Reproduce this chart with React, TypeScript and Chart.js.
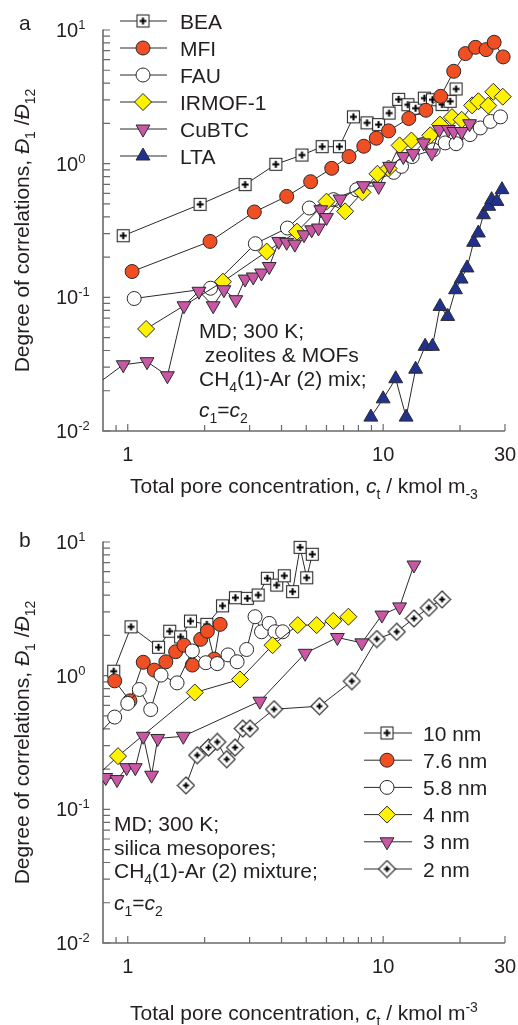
import React, { useEffect, useRef } from "react";
import { Chart, registerables } from "chart.js";

Chart.register(...registerables);

const FONT = '"Liberation Sans", Arial, Helvetica, sans-serif';
const TEXT = "#231f20";
const AXIS = "#6a6a6a";
const LINE = "#2a2a2a";
const EDGE = "#2a2a2a";
const FS = 21;
const TICK_FS = 20;

// ---------------- Panel a: zeolites & MOFs ----------------
const beaX = [0.96, 1.92, 2.88, 3.8, 4.81, 5.77, 6.74, 7.65, 8.65, 9.6, 10.55, 11.5, 12.5, 13.4, 14.5, 15.6, 17.0, 18.3, 19.3];
const beaY = [0.289, 0.496, 0.697, 0.99, 1.16, 1.34, 1.34, 2.24, 2.02, 1.96, 2.39, 3.03, 2.76, 2.6, 3.09, 3.01, 2.77, 2.93, 3.62];
const mfiX = [1.04, 2.1, 3.13, 4.19, 5.2, 6.29, 7.35, 8.4, 9.4, 10.5, 12.6, 14.7, 16.8, 18.9, 21.0, 23.0, 25.3, 27.2, 29.5];
const mfiY = [0.156, 0.262, 0.435, 0.569, 0.733, 0.923, 1.13, 1.35, 1.55, 1.76, 2.18, 2.51, 3.19, 4.91, 6.66, 7.42, 7.13, 8.09, 6.29];
const fauX = [1.06, 2.11, 3.16, 4.22, 5.14, 6.39, 7.88, 11.0, 11.8, 13.0, 15.7, 17.5, 19.3, 21.9, 24.0, 26.3, 28.8];
const fauY = [0.098, 0.117, 0.252, 0.33, 0.466, 0.538, 0.639, 0.861, 0.955, 1.13, 1.27, 1.43, 1.41, 1.65, 1.85, 2.07, 2.24];
const irmofX = [1.18, 2.36, 3.5, 4.6, 6.0, 7.1, 8.3, 9.5, 10.5, 11.6, 12.9, 15.3, 16.7, 18.6, 20.3, 22.3, 23.6, 25.8, 27.0, 29.4];
const irmofY = [0.058, 0.131, 0.22, 0.31, 0.52, 0.44, 0.61, 0.84, 0.92, 1.37, 1.49, 1.63, 1.96, 2.23, 2.13, 2.73, 2.93, 2.72, 3.45, 3.17];
const cubtcX = [0.7, 0.96, 1.19, 1.43, 1.66, 1.9, 2.16, 2.38, 2.65, 2.88, 3.1, 3.34, 3.58, 3.9, 4.19, 4.51, 4.9, 5.25, 5.58, 5.7, 6.0, 6.78, 8.37, 9.6, 10.6, 12.0, 13.1, 14.4, 15.5, 16.6, 18.0, 18.9, 20.3, 21.8];
const cubtcY = [0.02, 0.0313, 0.033, 0.0259, 0.0865, 0.111, 0.0865, 0.114, 0.096, 0.137, 0.142, 0.152, 0.17, 0.262, 0.258, 0.25, 0.294, 0.32, 0.33, 0.452, 0.395, 0.544, 0.684, 0.676, 0.955, 1.13, 1.19, 1.43, 1.2, 1.8, 1.8, 1.74, 1.74, 1.99];
const ltaX = [8.95, 10.0, 11.2, 12.3, 13.4, 14.6, 15.6, 16.7, 17.9, 19.2, 20.2, 21.3, 22.6, 23.6, 24.7, 25.9, 26.6, 27.9, 29.2];
const ltaY = [0.0127, 0.0174, 0.0246, 0.0127, 0.029, 0.043, 0.043, 0.0855, 0.072, 0.114, 0.137, 0.166, 0.258, 0.303, 0.415, 0.48, 0.538, 0.522, 0.639];

// ---------------- Panel b: silica mesopores ----------------
const nm10X = [0.881, 1.03, 1.32, 1.46, 1.61, 1.76, 2.04, 2.35, 2.64, 2.94, 3.24, 3.52, 3.83, 4.1, 4.42, 4.73, 5.02, 5.28];
const nm10Y = [1.08, 2.32, 1.63, 2.15, 1.95, 2.56, 2.42, 3.33, 3.83, 3.79, 4.01, 5.35, 4.76, 5.59, 4.25, 9.12, 5.4, 8.09];
const nm76X = [0.889, 1.02, 1.15, 1.27, 1.41, 1.54, 1.66, 1.79, 1.93, 2.05, 2.18, 2.3];
const nm76Y = [0.914, 0.648, 1.26, 1.1, 1.27, 1.51, 1.69, 1.2, 1.87, 2.15, 1.33, 2.42];
const nm58X = [0.72, 0.889, 1.0, 1.11, 1.23, 1.35, 1.56, 1.79, 2.02, 2.24, 2.47, 2.68, 2.92, 3.15, 3.34, 3.58, 3.77, 4.04];
const nm58Y = [0.32, 0.49, 0.62, 0.788, 0.558, 1.01, 0.883, 1.53, 1.25, 1.23, 1.43, 1.27, 1.57, 2.76, 2.13, 2.46, 2.13, 2.13];
const nm4X = [0.7, 0.916, 1.83, 2.75, 3.69, 4.63, 5.49, 6.38, 7.31];
const nm4Y = [0.155, 0.25, 0.748, 0.937, 1.69, 2.39, 2.39, 2.57, 2.76];
const nm3X = [0.82, 0.908, 0.99, 1.07, 1.15, 1.24, 1.31, 1.65, 3.29, 4.95, 6.62, 8.25, 9.89, 11.6, 13.2];
const nm3Y = [0.173, 0.167, 0.205, 0.205, 0.352, 0.18, 0.339, 0.352, 0.644, 1.47, 1.93, 1.76, 2.84, 3.27, 6.73];
const nm2X = [1.69, 1.87, 2.07, 2.24, 2.44, 2.63, 2.82, 3.01, 3.74, 5.63, 7.54, 9.45, 11.3, 13.2, 15.1, 17.0];
const nm2Y = [0.151, 0.254, 0.29, 0.319, 0.237, 0.29, 0.402, 0.402, 0.561, 0.591, 0.91, 1.88, 2.13, 2.68, 3.22, 3.72];

// axis ticks
const yMajor = [0.01, 0.1, 1, 10];
const yMajorSup = ["-2", "-1", "0", "1"];
const xLabels = [1, 10, 30];
const xTickVals = [0.9, 1, 2, 3, 4, 5, 6, 7, 8, 9, 10, 20, 30];

type Part = { t: string; i?: boolean; sub?: boolean; sup?: boolean };

function drawRich(ctx: CanvasRenderingContext2D, parts: Part[], x: number, y: number, size: number, align: "left" | "center" | "right" = "left") {
  const small = Math.round(size * 0.66);
  const fontFor = (p: Part) => `${p.i ? "italic " : ""}${p.sub || p.sup ? small : size}px ${FONT}`;
  let total = 0;
  for (const p of parts) {
    ctx.font = fontFor(p);
    total += ctx.measureText(p.t).width;
  }
  let cx = align === "left" ? x : align === "center" ? x - total / 2 : x - total;
  ctx.textAlign = "left";
  ctx.textBaseline = "alphabetic";
  for (const p of parts) {
    ctx.font = fontFor(p);
    const dy = p.sub ? size * 0.3 : p.sup ? -size * 0.4 : 0;
    ctx.fillText(p.t, cx, y + dy);
    cx += ctx.measureText(p.t).width;
  }
}

function makeSquarePlus(): HTMLCanvasElement {
  const s = 17, side = 13, o = 2;
  const c = document.createElement("canvas");
  c.width = s; c.height = s;
  const g = c.getContext("2d")!;
  g.fillStyle = "#ffffff";
  g.fillRect(o, o, side, side);
  g.strokeStyle = EDGE; g.lineWidth = 1.1;
  g.strokeRect(o + 0.5, o + 0.5, side - 1, side - 1);
  g.strokeStyle = "#000"; g.lineWidth = 2;
  const m = s / 2;
  g.beginPath();
  g.moveTo(m - 3.5, m); g.lineTo(m + 3.5, m);
  g.moveTo(m, m - 3.5); g.lineTo(m, m + 3.5);
  g.stroke();
  return c;
}

function makeDiamondPlus(): HTMLCanvasElement {
  const s = 19, h = 8.5, m = s / 2;
  const c = document.createElement("canvas");
  c.width = s; c.height = s;
  const g = c.getContext("2d")!;
  g.beginPath();
  g.moveTo(m, m - h); g.lineTo(m + h, m); g.lineTo(m, m + h); g.lineTo(m - h, m); g.closePath();
  g.fillStyle = "#ffffff"; g.fill();
  g.strokeStyle = EDGE; g.lineWidth = 1.1; g.stroke();
  g.strokeStyle = "#000"; g.lineWidth = 2;
  g.beginPath();
  g.moveTo(m - 3, m); g.lineTo(m + 3, m);
  g.moveTo(m, m - 3); g.lineTo(m, m + 3);
  g.stroke();
  return c;
}

type Marker = { style: any; r: number; rot?: number; fill: string };

function drawMarker(ctx: CanvasRenderingContext2D, mk: Marker, x: number, y: number) {
  ctx.save();
  if (typeof mk.style === "object") {
    ctx.drawImage(mk.style, x - mk.style.width / 2, y - mk.style.height / 2);
    ctx.restore();
    return;
  }
  ctx.beginPath();
  if (mk.style === "circle") {
    ctx.arc(x, y, mk.r, 0, Math.PI * 2);
  } else if (mk.style === "rectRot") {
    ctx.moveTo(x - mk.r, y); ctx.lineTo(x, y - mk.r); ctx.lineTo(x + mk.r, y); ctx.lineTo(x, y + mk.r);
    ctx.closePath();
  } else if (mk.style === "triangle") {
    let rad = ((mk.rot || 0) * Math.PI) / 180;
    for (let k = 0; k < 3; k++) {
      const px = x + Math.sin(rad) * mk.r, py = y - Math.cos(rad) * mk.r;
      if (k === 0) ctx.moveTo(px, py); else ctx.lineTo(px, py);
      rad += (2 * Math.PI) / 3;
    }
    ctx.closePath();
  }
  ctx.fillStyle = mk.fill; ctx.fill();
  ctx.strokeStyle = EDGE; ctx.lineWidth = 1; ctx.stroke();
  ctx.restore();
}

type SeriesDef = { label: string; xs: number[]; ys: number[]; mk: Marker };

type PanelCfg = {
  height: number;
  letter: string;
  letterY: number;
  series: SeriesDef[];
  legend: { y0: number; dy: number; x1: number; x2: number; mx: number; tx: number };
  ann: { x: number; ys: number[]; lines: Part[][] };
  xTitle: Part[];
  xTitleY: number;
};

function buildChart(canvas: HTMLCanvasElement, cfg: PanelCfg) {
  const AREA_BOTTOM = 431;
  const decor = {
    id: "panelDecor",
    beforeDatasetsDraw(chart: any) {
      const { ctx, chartArea: a, scales } = chart;
      const xs = scales.x, ys = scales.y;
      ctx.save();
      ctx.strokeStyle = AXIS;
      ctx.lineWidth = 1.2;
      ctx.beginPath();
      for (let e = -2; e <= 0; e++) {
        for (let m = 1; m <= 9; m++) {
          const py = ys.getPixelForValue(m * Math.pow(10, e));
          ctx.moveTo(a.left, py); ctx.lineTo(a.left + 7, py);
        }
      }
      const pTop = ys.getPixelForValue(10);
      ctx.moveTo(a.left, pTop); ctx.lineTo(a.left + 7, pTop);
      for (const v of xTickVals) {
        const px = xs.getPixelForValue(v);
        const len = v === 1 || v === 10 || v === 30 ? 7 : 6;
        ctx.moveTo(px, a.bottom); ctx.lineTo(px, a.bottom - len);
      }
      ctx.stroke();
      ctx.lineWidth = 1.6;
      ctx.beginPath();
      ctx.moveTo(a.left, a.top - 0.5); ctx.lineTo(a.left, a.bottom); ctx.lineTo(a.right, a.bottom);
      ctx.stroke();
      ctx.restore();
    },
    afterDatasetsDraw(chart: any) {
      const { ctx, chartArea: a, scales } = chart;
      const xs = scales.x, ys = scales.y;
      ctx.save();
      ctx.fillStyle = TEXT;
      // panel letter
      drawRich(ctx, [{ t: cfg.letter }], 19, cfg.letterY, FS);
      // y tick labels
      yMajor.forEach((v, k) => {
        const py = ys.getPixelForValue(v);
        drawRich(ctx, [{ t: "10" }, { t: yMajorSup[k], sup: true }], 56, py + 7, TICK_FS);
      });
      // x tick labels
      xLabels.forEach((v) => {
        const px = xs.getPixelForValue(v);
        drawRich(ctx, [{ t: String(v) }], px, a.bottom + 30, TICK_FS, "center");
      });
      // axis titles
      drawRich(ctx, cfg.xTitle, (a.left + a.right) / 2, cfg.xTitleY, FS, "center");
      ctx.save();
      ctx.translate(29, (a.top + a.bottom) / 2);
      ctx.rotate(-Math.PI / 2);
      drawRich(ctx, [
        { t: "Degree of correlations, " },
        { t: "Đ", i: true }, { t: "1", sub: true }, { t: " /" },
        { t: "Đ", i: true }, { t: "12", sub: true },
      ], 0, 0, FS, "center");
      ctx.restore();
      // annotation
      cfg.ann.lines.forEach((ln, k) => drawRich(ctx, ln, cfg.ann.x, cfg.ann.ys[k], FS));
      // legend
      const L = cfg.legend;
      cfg.series.forEach((s, k) => {
        const y = L.y0 + k * L.dy;
        ctx.strokeStyle = LINE; ctx.lineWidth = 1;
        ctx.beginPath(); ctx.moveTo(L.x1, y); ctx.lineTo(L.x2, y); ctx.stroke();
        drawMarker(ctx, s.mk, L.mx, y);
        ctx.fillStyle = TEXT;
        drawRich(ctx, [{ t: s.label }], L.tx, y + 7.5, FS);
      });
      ctx.restore();
    },
  };

  const datasets = cfg.series.map((s, idx) => ({
    label: s.label,
    data: s.xs.map((x, i) => ({ x, y: s.ys[i] })),
    showLine: true,
    borderColor: LINE,
    borderWidth: 1,
    pointStyle: s.mk.style,
    pointRadius: s.mk.r,
    pointHoverRadius: s.mk.r,
    pointRotation: s.mk.rot || 0,
    pointBackgroundColor: s.mk.fill,
    pointBorderColor: EDGE,
    pointBorderWidth: 1,
    clip: { left: 0, top: 20, right: 20, bottom: 20 },
    order: -idx,
  }));

  return new Chart(canvas, {
    type: "scatter",
    data: { datasets } as any,
    options: {
      responsive: false,
      animation: false,
      events: [],
      layout: { padding: { left: 103, right: 13, top: 30, bottom: cfg.height - AREA_BOTTOM } },
      scales: {
        x: { type: "logarithmic", min: 0.8, max: 30, display: false },
        y: { type: "logarithmic", min: 0.01, max: 10, display: false },
      },
      plugins: { legend: { display: false }, tooltip: { enabled: false } },
    } as any,
    plugins: [decor as any],
  });
}

function Panel({ cfg, top }: { cfg: () => PanelCfg; top: number }) {
  const ref = useRef<HTMLCanvasElement>(null);
  const c = cfg();
  useEffect(() => {
    const chart = buildChart(ref.current!, cfg());
    return () => chart.destroy();
  }, []);
  return (
    <canvas
      ref={ref}
      width={518}
      height={c.height}
      style={{ position: "absolute", left: 0, top, width: 518, height: c.height, display: "block" }}
    />
  );
}

const RED = "#f04e23";
const YELLOW = "#fff200";
const PINK = "#c957a6";
const NAVY = "#213190";

function panelA(): PanelCfg {
  const sq = makeSquarePlus();
  return {
    height: 512,
    letter: "a",
    letterY: 29.5,
    series: [
      { label: "BEA", xs: beaX, ys: beaY, mk: { style: sq, r: 8, fill: "#fff" } },
      { label: "MFI", xs: mfiX, ys: mfiY, mk: { style: "circle", r: 7, fill: RED } },
      { label: "FAU", xs: fauX, ys: fauY, mk: { style: "circle", r: 7, fill: "#ffffff" } },
      { label: "IRMOF-1", xs: irmofX, ys: irmofY, mk: { style: "rectRot", r: 8.5, fill: YELLOW } },
      { label: "CuBTC", xs: cubtcX, ys: cubtcY, mk: { style: "triangle", r: 8, rot: 180, fill: PINK } },
      { label: "LTA", xs: ltaX, ys: ltaY, mk: { style: "triangle", r: 8, fill: NAVY } },
    ],
    legend: { y0: 21, dy: 27, x1: 120, x2: 167, mx: 143, tx: 180 },
    ann: {
      x: 199,
      ys: [338, 362, 386, 417],
      lines: [
        [{ t: "MD; 300 K;" }],
        [{ t: " zeolites & MOFs" }],
        [{ t: "CH" }, { t: "4", sub: true }, { t: "(1)-Ar (2) mix;" }],
        [{ t: "c", i: true }, { t: "1", sub: true }, { t: "=" }, { t: "c", i: true }, { t: "2", sub: true }],
      ],
    },
    xTitle: [
      { t: "Total pore concentration, " }, { t: "c", i: true }, { t: "t", sub: true },
      { t: " / kmol m" }, { t: "-3", sub: true },
    ],
    xTitleY: 493,
  };
}

function panelB(): PanelCfg {
  const sq = makeSquarePlus();
  const dm = makeDiamondPlus();
  return {
    height: 513,
    letter: "b",
    letterY: 34.5,
    series: [
      { label: "10 nm", xs: nm10X, ys: nm10Y, mk: { style: sq, r: 8, fill: "#fff" } },
      { label: "7.6 nm", xs: nm76X, ys: nm76Y, mk: { style: "circle", r: 7, fill: RED } },
      { label: "5.8 nm", xs: nm58X, ys: nm58Y, mk: { style: "circle", r: 7, fill: "#ffffff" } },
      { label: "4 nm", xs: nm4X, ys: nm4Y, mk: { style: "rectRot", r: 8.5, fill: YELLOW } },
      { label: "3 nm", xs: nm3X, ys: nm3Y, mk: { style: "triangle", r: 8, rot: 180, fill: PINK } },
      { label: "2 nm", xs: nm2X, ys: nm2Y, mk: { style: dm, r: 8, fill: "#fff" } },
    ],
    legend: { y0: 221, dy: 27.2, x1: 364, x2: 412, mx: 387, tx: 423 },
    ann: {
      x: 114,
      ys: [319, 343, 366, 398],
      lines: [
        [{ t: "MD; 300 K;" }],
        [{ t: "silica mesopores;" }],
        [{ t: "CH" }, { t: "4", sub: true }, { t: "(1)-Ar (2) mixture;" }],
        [{ t: "c", i: true }, { t: "1", sub: true }, { t: "=" }, { t: "c", i: true }, { t: "2", sub: true }],
      ],
    },
    xTitle: [
      { t: "Total pore concentration, " }, { t: "c", i: true }, { t: "t", sub: true },
      { t: " / kmol m" }, { t: "-3", sup: true },
    ],
    xTitleY: 508,
  };
}

export default function App() {
  return (
    <div style={{ position: "absolute", left: 0, top: 0, width: 518, height: 1025, background: "#fff", overflow: "hidden" }}>
      <Panel cfg={panelA} top={0} />
      <Panel cfg={panelB} top={512} />
    </div>
  );
}
